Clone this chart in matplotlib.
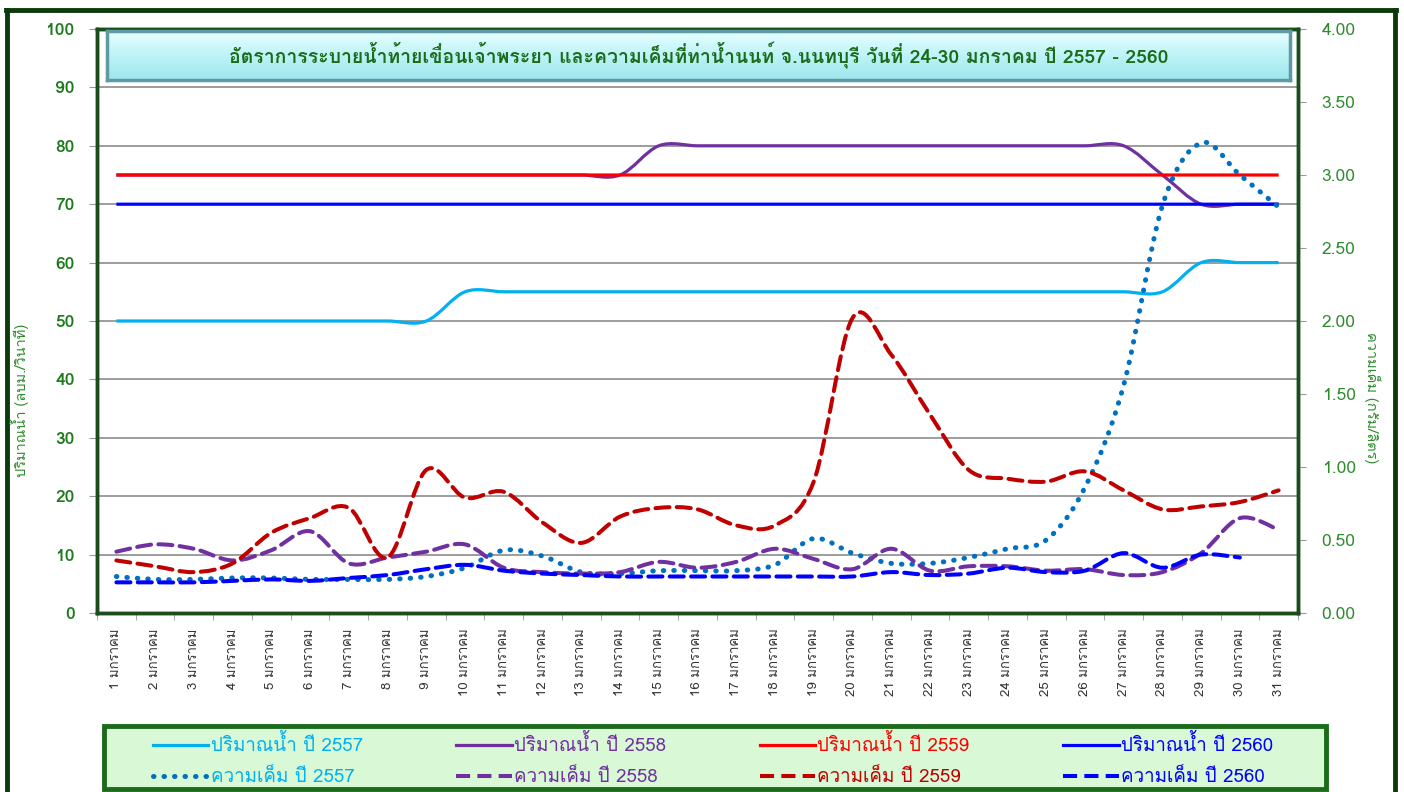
import numpy as np
import matplotlib
matplotlib.use("Agg")
import matplotlib.pyplot as plt
from matplotlib import font_manager
from matplotlib.path import Path
from matplotlib.patches import PathPatch, Rectangle
from matplotlib.lines import Line2D


def find_thai_font():
    try:
        from fontTools.ttLib import TTFont
    except Exception:
        return None
    names = []
    for f in font_manager.fontManager.ttflist:
        try:
            tt = TTFont(f.fname, fontNumber=0, lazy=True)
            if 0x0E01 in tt.getBestCmap():
                names.append(f.name)
        except Exception:
            pass
    return names[0] if names else None


thai = find_thai_font()
plt.rcParams["font.family"] = ([thai] if thai else []) + ["DejaVu Sans"]

# ---- data ---------------------------------------------------------------
days = np.arange(1, 32)
day_labels = [f"{d} มกราคม" for d in days]

flow_2557 = [50] * 9 + [55] * 19 + [60] * 3
flow_2558 = [75] * 14 + [80] * 13 + [75] + [70] * 3
flow_2559 = [75] * 31
flow_2560 = [70] * 31

sal_2557 = [0.25, 0.23, 0.23, 0.24, 0.24, 0.23, 0.23, 0.23, 0.25, 0.31,
            0.43, 0.39, 0.28, 0.27, 0.29, 0.29, 0.29, 0.33, 0.51, 0.41,
            0.34, 0.34, 0.38, 0.44, 0.50, 0.86, 1.56, 2.79, 3.22, 3.00, 2.78]
sal_2558 = [0.42, 0.47, 0.44, 0.36, 0.43, 0.56, 0.34, 0.38, 0.42, 0.47,
            0.31, 0.28, 0.27, 0.28, 0.35, 0.31, 0.35, 0.44, 0.37, 0.30,
            0.44, 0.29, 0.32, 0.32, 0.29, 0.30, 0.26, 0.28, 0.41, 0.65, 0.57]
sal_2559 = [0.36, 0.32, 0.28, 0.34, 0.55, 0.65, 0.72, 0.38, 0.98, 0.79,
            0.83, 0.62, 0.48, 0.66, 0.72, 0.71, 0.60, 0.60, 0.90, 2.02,
            1.77, 1.36, 0.98, 0.92, 0.90, 0.97, 0.84, 0.71, 0.73, 0.76, 0.84]
sal_2560 = [0.21, 0.21, 0.21, 0.22, 0.23, 0.22, 0.24, 0.26, 0.30, 0.33,
            0.29, 0.27, 0.26, 0.25, 0.25, 0.25, 0.25, 0.25, 0.25, 0.25,
            0.28, 0.26, 0.27, 0.31, 0.28, 0.29, 0.41, 0.31, 0.40, 0.38]

C57, C58, C59, C60 = "#00B0F0", "#7030A0", "#FF0000", "#0000FF"
C57s, C59s = "#0070C0", "#C00000"
GREEN = "#1E7B1E"


def smooth(x, y):
    """Excel-style smoothed line as a cubic Bezier path."""
    x = np.asarray(x, float)
    y = np.asarray(y, float)
    n = len(x)
    verts = [(x[0], y[0])]
    codes = [Path.MOVETO]
    for i in range(n - 1):
        a = max(i - 1, 0)
        b = min(i + 2, n - 1)
        c1 = (x[i] + (x[i + 1] - x[a]) / 6, y[i] + (y[i + 1] - y[a]) / 6)
        c2 = (x[i + 1] - (x[b] - x[i]) / 6, y[i + 1] - (y[b] - y[i]) / 6)
        verts += [c1, c2, (x[i + 1], y[i + 1])]
        codes += [Path.CURVE4] * 3
    return Path(verts, codes)


def draw(ax, y, color, ls, lw=2.3, z=3):
    x = days[:len(y)]
    p = PathPatch(smooth(x, y), fill=False, edgecolor=color, lw=lw,
                  linestyle=ls, zorder=z)
    p.set_capstyle("round" if ls != "-" else "butt")
    ax.add_patch(p)


fig = plt.figure(figsize=(14.04, 7.92), dpi=100)
W, H = 1404, 792
ax = fig.add_axes([97 / W, 1 - 613 / H, (1298 - 97) / W, (613 - 29) / H])
ax2 = ax.twinx()

dotted = (0, (0.1, 2.0))
dashed = (0, (3.5, 1.8))

draw(ax, flow_2557, C57, "-")
draw(ax, flow_2558, C58, "-")
draw(ax, flow_2559, C59, "-")
draw(ax, flow_2560, C60, "-")
draw(ax2, sal_2557, C57s, dotted, lw=3.6)
draw(ax2, sal_2558, C58, dashed, lw=2.9)
draw(ax2, sal_2559, C59s, dashed, lw=2.9)
draw(ax2, sal_2560, C60, dashed, lw=2.9)

ax.set_xlim(0.5, 31.5)
ax.set_ylim(0, 100)
ax2.set_ylim(0, 4)
ax.set_yticks(np.arange(0, 101, 10))
ax2.set_yticks(np.arange(0, 4.01, 0.5))
ax2.set_yticklabels([f"{v:.2f}" for v in np.arange(0, 4.01, 0.5)])
ax.yaxis.grid(True, color="#8C8C8C", lw=1.2)
ax.set_axisbelow(True)

ax.set_xticks(days)
ax.set_xticklabels(day_labels, rotation=90, fontsize=9.5, color="#333333")
ax.set_xticks(np.arange(0.5, 31.6, 1), minor=True)
ax.tick_params(axis="x", which="major", length=0, pad=11)
ax.tick_params(axis="x", which="minor", length=5, color="#999999")
ax.tick_params(axis="y", length=6, color="#999999", labelsize=12.5,
               labelcolor=GREEN, pad=10)
for t in ax.get_yticklabels():
    t.set_fontweight("bold")
ax2.tick_params(axis="y", length=6, color="#999999", labelsize=12.5,
                labelcolor="#2E8B2E", pad=11)

for a in (ax, ax2):
    for s in a.spines.values():
        s.set_color("#1B4D1B")
        s.set_linewidth(2.5)

fig.text(20 / W, 1 - 400 / H, "ปริมาณน้ำ (ลบม./วินาที)", rotation=90,
         color="#2E8B2E", fontsize=10.5, ha="center", va="center")
fig.text(1372 / W, 1 - 398 / H, "ความเค็ม (กรัม/ลิตร)", rotation=270,
         color="#2E8B2E", fontsize=10.5, ha="center", va="center")

# title box with a light cyan gradient
tax = fig.add_axes([107 / W, 1 - 80 / H, (1290 - 107) / W, (80 - 31) / H])
grad = np.linspace(0, 1, 64).reshape(-1, 1)
tax.imshow(grad, aspect="auto", cmap=matplotlib.colors.LinearSegmentedColormap
           .from_list("t", ["#E8FFFF", "#BDF3F7", "#9FE6EC"]),
           extent=(0, 1, 0, 1))
tax.set_xticks([])
tax.set_yticks([])
for s in tax.spines.values():
    s.set_color("#5E9AA2")
    s.set_linewidth(2.5)
tax.text(0.5, 0.5, "อัตราการระบายน้ำท้ายเขื่อนเจ้าพระยา และความเค็มที่ท่าน้ำนนท์ "
         "จ.นนทบุรี วันที่ 24-30 มกราคม ปี 2557 - 2560",
         ha="center", va="center", fontsize=14, fontweight="bold",
         color="#1A6B1A", transform=tax.transAxes)

# outer border
for xs, ys in [((6, 1396), (10, 10)), ((7, 7), (10, 792)), ((1395, 1395), (10, 792))]:
    fig.add_artist(Line2D([x / W for x in xs], [1 - y / H for y in ys],
                          color="#0B3B0B", lw=3.5))

# legend box
fig.add_artist(Rectangle((104 / W, 1 - 789 / H), (1326 - 104) / W, (789 - 726) / H,
                         transform=fig.transFigure, facecolor="#D8F8D6",
                         edgecolor="#1B6B1B", lw=3.5, zorder=1))

handles = [
    Line2D([], [], color=C57, lw=2.3),
    Line2D([], [], color=C57s, lw=3.6, ls=dotted, dash_capstyle="round"),
    Line2D([], [], color=C58, lw=2.3),
    Line2D([], [], color=C58, lw=2.9, ls=dashed),
    Line2D([], [], color=C59, lw=2.3),
    Line2D([], [], color=C59s, lw=2.9, ls=dashed),
    Line2D([], [], color=C60, lw=2.3),
    Line2D([], [], color=C60, lw=2.9, ls=dashed),
]
labels = ["ปริมาณน้ำ ปี 2557", "ความเค็ม ปี 2557",
          "ปริมาณน้ำ ปี 2558", "ความเค็ม ปี 2558",
          "ปริมาณน้ำ ปี 2559", "ความเค็ม ปี 2559",
          "ปริมาณน้ำ ปี 2560", "ความเค็ม ปี 2560"]
lcolors = [C57, C57, C58, C58, C59, C59s, C60, C60]
leg = fig.legend(handles, labels, ncol=4, loc="upper left",
                 bbox_to_anchor=(153 / W, 1 - 734 / H),
                 fontsize=13.5, labelcolor=lcolors, frameon=False,
                 handlelength=2.95, handletextpad=0.12, borderpad=0,
                 borderaxespad=0, labelspacing=0.7, columnspacing=5.0)
leg.set_zorder(2)

fig.savefig("out.png", dpi=100)
